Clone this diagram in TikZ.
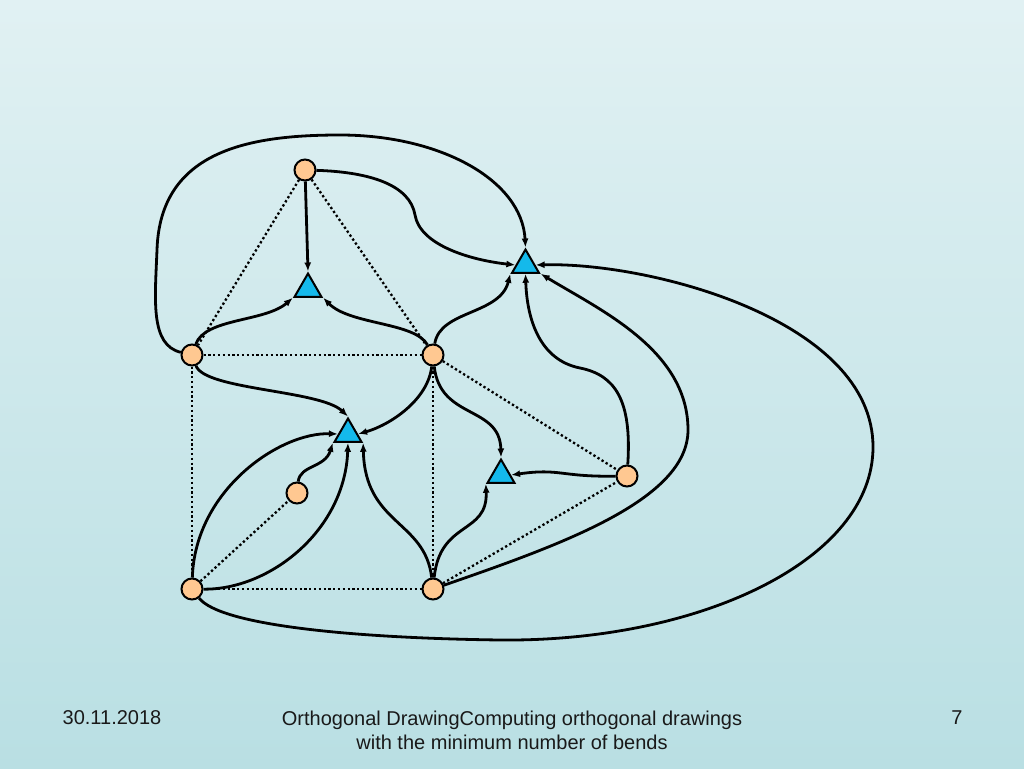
\documentclass[tikz,border=0pt]{standalone}
\usepackage{fontspec}
\setmainfont{Liberation Sans}
\usepackage{xcolor}
\usetikzlibrary{arrows.meta,shapes.geometric}
\definecolor{knoten}{RGB}{255,200,145}
\definecolor{flaeche}{RGB}{20,185,235}
\definecolor{hgoben}{RGB}{225,241,243}
\definecolor{hgunten}{RGB}{185,223,227}

\begin{document}
\begin{tikzpicture}[x=1pt,y=-1pt,line width=2.8pt,
   -{Latex[length=9pt,width=7pt]},
   vertex node/.style={circle,draw,fill=knoten,line width=2pt,minimum size=21pt,inner sep=0pt},
   face node/.style={regular polygon,regular polygon sides=3,draw,fill=flaeche,line width=2pt,minimum size=31pt,inner sep=0pt},
   grid edge/.style={-,line width=2.3pt,dash pattern=on 2.3pt off 2.5pt},
   footer/.style={font=\fontsize{20}{24}\selectfont,text=black!90}]

  \fill[top color=hgoben,bottom color=hgunten,draw=none] (0,0) rectangle (1024,768);

  \node[vertex node](a) at (305,170) {};
  \node[vertex node](b) at (192,355) {};
  \node[vertex node](c) at (433,355) {};
  \node[vertex node](d) at (297,493) {};
  \node[vertex node](e) at (192,589) {};
  \node[vertex node](f) at (433,589) {};
  \node[vertex node](g) at (627,476) {};

  \node[face node](fa) at (308,289) {};
  \node[face node](fb) at (525.5,265) {};
  \node[face node](fc) at (348,434) {};
  \node[face node](fd) at (501,475) {};

  \foreach \from/\to in {a/b,a/c,b/c,b/e,c/f,e/f,e/d,c/g,f/g} \draw[grid edge] (\from) -- (\to);

  % arcs into the upper faces
  \draw (a) -- (fa.corner 1);
  \draw (b) .. controls (205,318) and (265,322) .. (fa.corner 2);
  \draw (c) .. controls (415,322) and (350,325) .. (fa.corner 3);
  \draw (a) .. controls (370,172) and (410,185) .. (415,215) .. controls (420,245) and (470,260) .. (fb.west);
  \draw (b) .. controls (150,345) and (155,300) .. (157,250) .. controls (160,150) and (250,135) .. (340,135) .. controls (440,135) and (522,180) .. (fb.corner 1);
  \draw (c) .. controls (440,310) and (500,315) .. (fb.corner 2);
  \draw (g) .. controls (632,400) and (615,375) .. (580,368) .. controls (540,360) and (527,320) .. (fb.south);
  \draw (f) .. controls (560,545) and (688,500) .. (688,430) .. controls (688,350) and (600,310) .. (fb.corner 3);
  \draw (e) .. controls (220,625) and (350,638) .. (500,640) .. controls (700,642) and (873,560) .. (873,447) .. controls (873,320) and (650,262) .. (fb.east);

  % arcs into the lower faces
  \draw (b) .. controls (205,390) and (320,390) .. (fc.corner 1);
  \draw (c) .. controls (428,400) and (390,425) .. (fc.east);
  \draw (e) .. controls (195,490) and (280,432) .. (fc.west);
  \draw (d) .. controls (300,465) and (325,468) .. (fc.corner 2);
  \draw (e) .. controls (270,590) and (345,530) .. (fc.south);
  \draw (f) .. controls (425,520) and (365,525) .. (fc.corner 3);
  \draw (c) .. controls (440,420) and (500,405) .. (fd.corner 1);
  \draw (f) .. controls (440,520) and (488,535) .. (fd.corner 2);
  \draw (g) .. controls (560,477) and (560,468) .. (fd.east);

  \node[footer](datum) at (112,718) {30.11.2018};
  \node[footer,align=center](titel) at (512,730) {Orthogonal DrawingComputing orthogonal drawings\\with the minimum number of bends};
  \node[footer](seite) at (957,718) {7};
\end{tikzpicture}
\end{document}
